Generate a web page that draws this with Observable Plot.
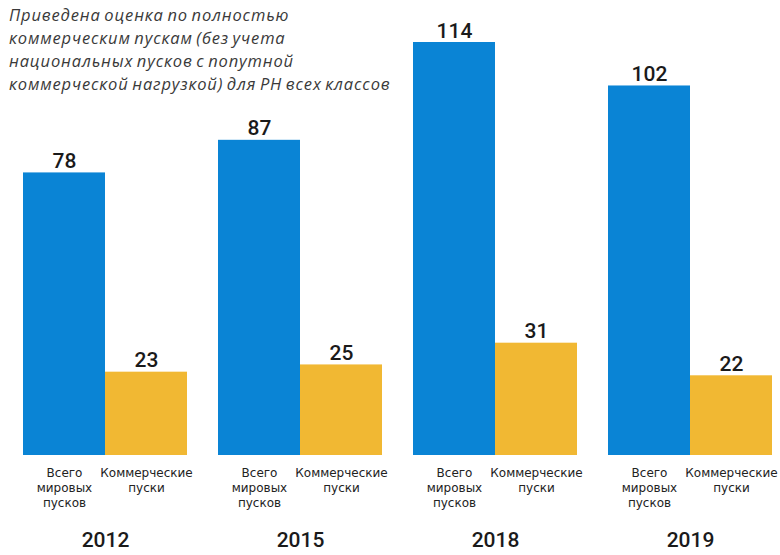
<!DOCTYPE html>
<html><head><meta charset="utf-8">
<script src="https://cdn.jsdelivr.net/npm/d3@7"></script>
<script src="https://cdn.jsdelivr.net/npm/@observablehq/plot@0.6"></script>
<style>
body{margin:0;background:#fff;}
#wrap{position:relative;width:780px;height:555px;}
#note{position:absolute;left:9px;top:3px;font-family:"Open Sans",sans-serif;font-style:italic;font-size:16.5px;line-height:23px;color:#3a3a3a;letter-spacing:0.85px;word-spacing:-1.5px;white-space:nowrap;}
</style></head>
<body>
<div id="wrap"><div id="note">Приведена оценка по полностью<br>коммерческим пускам (без учета<br>национальных пусков с попутной<br>коммерческой нагрузкой) для РН всех классов</div></div>
<script>
const years = ["2012", "2015", "2018", "2019"];
const series = ["Всего\nмировых\nпусков", "Коммерческие\nпуски"];
const totalLaunches = [78, 87, 114, 102];
const commercialLaunches = [23, 25, 31, 22];
const colors = ["#0a84d5", "#f1b833"];

const data = [];
years.forEach((y, i) => {
  data.push({year: y, s: series[0], v: totalLaunches[i]});
  data.push({year: y, s: series[1], v: commercialLaunches[i]});
});

const chart = Plot.plot({
  width: 780, height: 555,
  marginLeft: 22, marginRight: 8, marginTop: 42, marginBottom: 100,
  fx: {domain: years, paddingInner: 0.16, paddingOuter: 0, label: null},
  x: {domain: series, padding: 0, axis: null},
  y: {domain: [0, 114], axis: null},
  color: {domain: series, range: colors},
  style: {fontFamily: "Roboto, sans-serif"},
  marks: [
    Plot.barY(data, {fx: "year", x: "s", y: "v", fill: "s"}),
    Plot.text(data, {fx: "year", x: "s", y: "v", text: d => String(d.v), lineAnchor: "bottom", dy: -5, fontSize: 21, fontWeight: 500, fill: "#1a1a1a", fontFamily: "Roboto, sans-serif"}),
    Plot.text(data, {fx: "year", x: "s", y: 0, text: "s", lineAnchor: "top", dy: 11, fontSize: 12, lineHeight: 1.25, fill: "#222", fontFamily: "'DejaVu Sans', sans-serif"}),
    Plot.axisFx({anchor: "bottom", tickSize: 0, tickPadding: 77, fontSize: 21, fontWeight: 500, label: null, fill: "#1a1a1a", fontFamily: "Roboto, sans-serif"})
  ]
});
document.getElementById("wrap").prepend(chart);
</script>
</body></html>
